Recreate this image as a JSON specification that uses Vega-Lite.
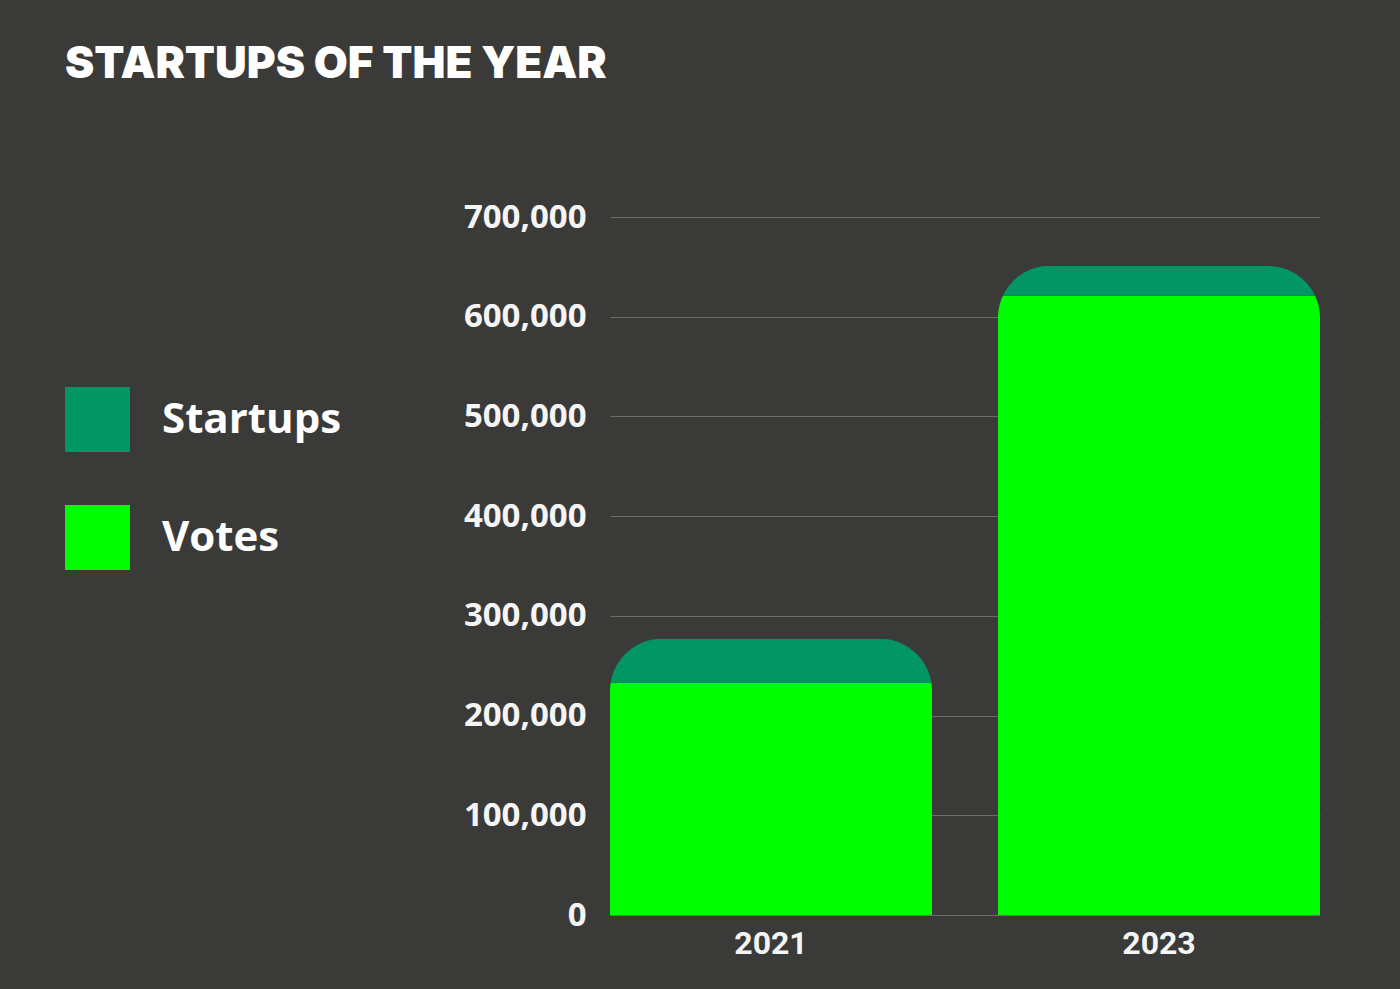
{
  "$schema": "https://vega.github.io/schema/vega-lite/v6.json",
  "width": 710,
  "height": 698,
  "autosize": {"type": "none"},
  "padding": {"left": 610, "top": 217, "right": 80, "bottom": 74},
  "background": "#3a3a38",
  "title": {
    "text": "STARTUPS OF THE YEAR",
    "anchor": "start",
    "frame": "group",
    "orient": "top",
    "dx": -545,
    "offset": 79,
    "baseline": "alphabetic",
    "font": "Inter",
    "fontSize": 44,
    "fontWeight": 900,
    "color": "#ffffff"
  },
  "data": {
    "values": [
      {"year": "2021", "series": "Votes", "value": 233000},
      {"year": "2021", "series": "Startups", "value": 44000},
      {"year": "2023", "series": "Votes", "value": 621000},
      {"year": "2023", "series": "Startups", "value": 30000}
    ]
  },
  "mark": {"type": "bar", "cornerRadiusTopLeft": 52, "cornerRadiusTopRight": 52},
  "encoding": {
    "x": {
      "field": "year",
      "type": "nominal",
      "scale": {"paddingInner": 0.17, "paddingOuter": 0},
      "axis": {
        "title": null,
        "labelAngle": 0,
        "labelFont": "Liberation Sans Narrow, Roboto",
        "labelFontSize": 32,
        "labelFontWeight": "bold",
        "labelColor": "#f5f5f5",
        "labelPadding": 13,
        "domain": false,
        "ticks": false
      }
    },
    "y": {
      "field": "value",
      "type": "quantitative",
      "stack": "zero",
      "scale": {"domain": [0, 700000]},
      "axis": {
        "title": null,
        "values": [0, 100000, 200000, 300000, 400000, 500000, 600000, 700000],
        "format": ",.0f",
        "labelFont": "Open Sans",
        "labelFontSize": 33,
        "labelFontWeight": "bold",
        "labelColor": "#f5f5f5",
        "labelPadding": 24,
        "domain": false,
        "ticks": false,
        "grid": true,
        "gridColor": "#6c6c6a",
        "gridWidth": 1
      }
    },
    "color": {
      "field": "series",
      "type": "nominal",
      "scale": {"domain": ["Startups", "Votes"], "range": ["#019663", "#00fd00"]},
      "legend": {
        "title": null,
        "orient": "none",
        "legendX": -545,
        "legendY": 170,
        "symbolType": "square",
        "symbolSize": 4225,
        "symbolStrokeWidth": 0,
        "symbolOpacity": 1,
        "labelFont": "Open Sans",
        "labelFontSize": 42,
        "labelFontWeight": "bold",
        "labelColor": "#ffffff",
        "labelOffset": 32,
        "rowPadding": 53,
        "labelLimit": 400
      }
    },
    "order": {"field": "series", "sort": "descending"}
  },
  "config": {"view": {"stroke": null}}
}
